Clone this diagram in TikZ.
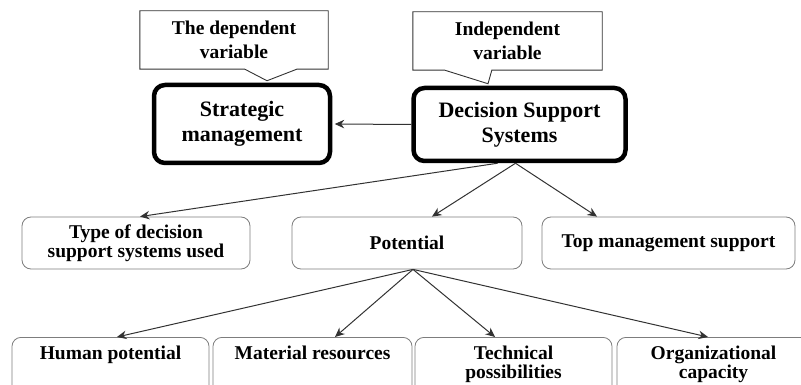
\documentclass[tikz,border=0pt]{standalone}
\usepackage{fontspec}
\setmainfont{Liberation Serif}
\usetikzlibrary{arrows.meta,calc}
\definecolor{boxgray}{RGB}{125,125,125}
\definecolor{linegray}{RGB}{50,50,50}

\begin{document}
\begin{tikzpicture}[x=1pt, y=-1pt,
    main/.style={draw, line width=4.5pt, rounded corners=11pt, align=center, inner sep=0pt, font=\bfseries\fontsize{22}{25}\selectfont},
    note/.style={align=center, inner sep=0pt, minimum height=58pt, font=\bfseries\fontsize{19.5}{24}\selectfont},
    noteline/.style={draw=linegray, line width=0.9pt},
    item/.style={draw=boxgray, line width=0.8pt, rounded corners=9pt, align=center, inner sep=0pt, minimum height=52pt, font=\bfseries\fontsize{19.5}{17.5}\selectfont},
    sub/.style={item, anchor=north, minimum height=0pt, inner ysep=9pt, text depth=45pt, font=\bfseries\fontsize{19.5}{18.5}\selectfont},
    arr/.style={-{Stealth[length=9.5pt,width=8.5pt]}, line width=1pt, draw=linegray}
]
\useasboundingbox (0,0) rectangle (801,385);
\clip (0,0) rectangle (801,385);

% main variables
\node[main, minimum width=176pt, minimum height=78pt] (strat) at (242,124) {Strategic\\management};
\node[main, minimum width=212pt, minimum height=73pt] (dss) at (519.5,124.5) {Decision Support\\Systems};

% callouts
\node[note, minimum width=188pt] (noteA) at (234,40) {The dependent\\variable};
\node[note, minimum width=189pt] (noteB) at (507.5,41) {Independent\\variable};
\coordinate (tipA) at ([xshift=25pt, yshift=2pt]strat.north);
\coordinate (tipB) at ([xshift=-31.5pt, yshift=2pt]dss.north);
\draw[noteline] (noteA.north west) -- (noteA.north east) -- (noteA.south east)
    -- ($(noteA.south west)+(157,0)$) -- (tipA) -- ($(noteA.south west)+(105,0)$)
    -- (noteA.south west) -- cycle;
\draw[noteline] (noteB.north west) -- (noteB.north east) -- (noteB.south east)
    -- ($(noteB.south west)+(79,0)$) -- (tipB) -- ($(noteB.south west)+(32,0)$)
    -- (noteB.south west) -- cycle;

% dimensions
\node[item, minimum width=228pt] (type) at (136,243) {Type of decision\\support systems used};
\node[item, minimum width=230pt] (pot) at (407,243) {Potential};
\node[item, minimum width=253pt] (top) at (668.5,243) {Top management support};

% parts of the potential
\node[sub, minimum width=197pt] (human) at (110.5,337) {Human potential};
\node[sub, minimum width=199pt] (mat) at (312.5,337) {Material resources};
\node[sub, minimum width=197pt] (tech) at (513.5,337) {Technical\\possibilities};
\node[sub, minimum width=193pt] (org) at (713.5,337) {Organizational\\capacity};

% links
\draw[arr] (dss.west) -- ([xshift=2.5pt]strat.east);
\draw[arr] ([xshift=-22pt]dss.south) -- ([xshift=4pt]type.north);
\draw[arr] ([xshift=-4pt]dss.south) -- ([xshift=25pt]pot.north);
\draw[arr] ([xshift=-4pt]dss.south) -- ([xshift=-71.5pt]top.north);
\draw[arr] ([xshift=6pt]pot.south) -- ([xshift=6.5pt]human.north);
\draw[arr] ([xshift=6pt]pot.south) -- ([xshift=22.5pt]mat.north);
\draw[arr] ([xshift=6pt]pot.south) -- ([xshift=-18.5pt]tech.north);
\draw[arr] ([xshift=6pt]pot.south) -- ([xshift=-5.5pt]org.north);
\end{tikzpicture}
\end{document}
